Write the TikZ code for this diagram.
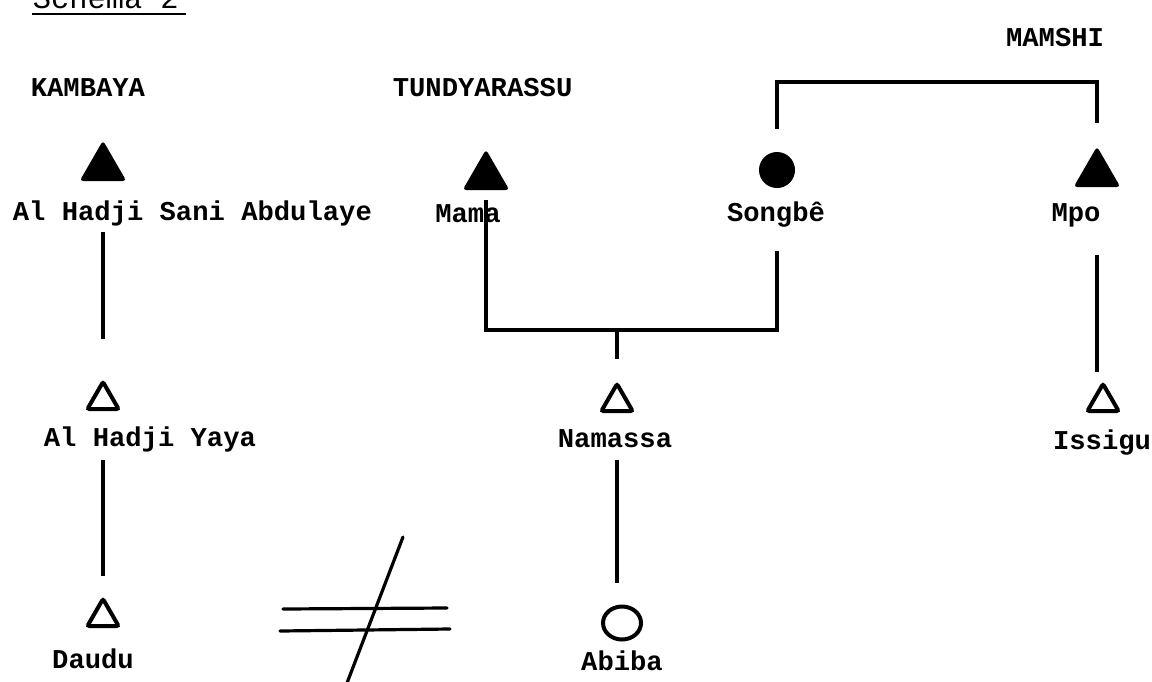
\documentclass[tikz,border=0pt]{standalone}
\usepackage{fontspec}
\setmainfont{Liberation Mono}
\usetikzlibrary{shapes.geometric}

\begin{document}
\begin{tikzpicture}[x=0.5pt,y=-0.5pt,thick,
  man/.style={regular polygon,regular polygon sides=3,fill=black,draw,line width=1pt,rounded corners=1pt,inner sep=0pt,minimum size=25pt,anchor=south},
  son/.style={regular polygon,regular polygon sides=3,draw,line width=2pt,rounded corners=1pt,inner sep=0pt,minimum size=18pt,anchor=south},
  woman/.style={circle,fill=black,inner sep=0pt,minimum size=18pt},
  girl/.style={ellipse,draw,line width=2pt,inner sep=0pt,minimum width=19pt,minimum height=16.5pt},
  kinlbl/.style={font=\fontsize{13.6}{16}\selectfont\bfseries,inner sep=0pt},
  link/.style={line width=1.6pt}]
\useasboundingbox (0,0) rectangle (1152,681);
% title
\node[font=\fontsize{15.2}{18}\selectfont,inner sep=0pt,anchor=base west] (title) at (32,8) {Schema 2};
\draw[line width=1.1pt] ([yshift=-3pt]title.base west) -- ([yshift=-3pt,xshift=3pt]title.base east);
% clans
\node[kinlbl,anchor=base west] (kambaya) at (30,96) {KAMBAYA};
\node[kinlbl,anchor=base west] (tundy) at (392,96) {TUNDYARASSU};
\node[kinlbl,anchor=base] (mamshi) at (1055,46) {MAMSHI};
% people
\node[man] (sani) at (103,181) {};
\node[kinlbl,anchor=base west] (sanilbl) at (12,220) {Al Hadji Sani Abdulaye};
\node[man] (mama) at (486,190) {};
\node[kinlbl,anchor=base] (mamalbl) at (468,222) {Mama};
\node[woman] (songbe) at (777,170) {};
\node[kinlbl,anchor=base] (songbelbl) at (776,221) {Songbê};
\node[man] (mpo) at (1097,187) {};
\node[kinlbl,anchor=base] (mpolbl) at (1076,221) {Mpo};
\node[son] (yaya) at (103,411) {};
\node[kinlbl,anchor=base west] (yayalbl) at (43,446) {Al Hadji Yaya};
\node[son] (namassa) at (617,413) {};
\node[kinlbl,anchor=base] (namassalbl) at (615,447) {Namassa};
\node[son] (issigu) at (1103,413) {};
\node[kinlbl,anchor=base] (issigulbl) at (1102,449) {Issigu};
\node[son] (daudu) at (103,628) {};
\node[kinlbl,anchor=base] (daudulbl) at (93,668) {Daudu};
\node[girl] (abiba) at (622,623) {};
\node[kinlbl,anchor=base] (abibalbl) at (622,670) {Abiba};
% links
\coordinate (bar) at (617,330);
\coordinate (top) at (936,82);
\draw[link,shorten <=25.5pt,shorten >=19.5pt] (sani.south) -- (yaya.north);
\draw[link,shorten <=24.5pt,shorten >=9.5pt] (yaya.south) -- (daudu.north);
\draw[link,shorten <=5pt,shorten >=31pt] (mama.south) |- (bar) -| (songbe.south);
\draw[link,shorten >=10.5pt] (bar) -- (namassa.north);
\draw[link,shorten <=11pt,shorten >=11.75pt] (songbe.north) |- (top) -| (mpo.north);
\draw[link,shorten <=34pt,shorten >=4pt] (mpo.south) -- (mpo.south |- issigu.north);
\draw[link,shorten <=23.5pt,shorten >=11pt] (namassa.south) -- (namassa.south |- abiba.north);
% not equal
\coordinate (nea) at (283,609);
\coordinate (neb) at (447,608);
\coordinate (nec) at (280,631);
\coordinate (ned) at (450,629);
\coordinate (slt) at (403,537);
\coordinate (slb) at (347,683);
\draw[line width=1.6pt,line cap=round] (nea) -- (neb) (nec) -- (ned) (slt) -- (slb);
\end{tikzpicture}
\end{document}
